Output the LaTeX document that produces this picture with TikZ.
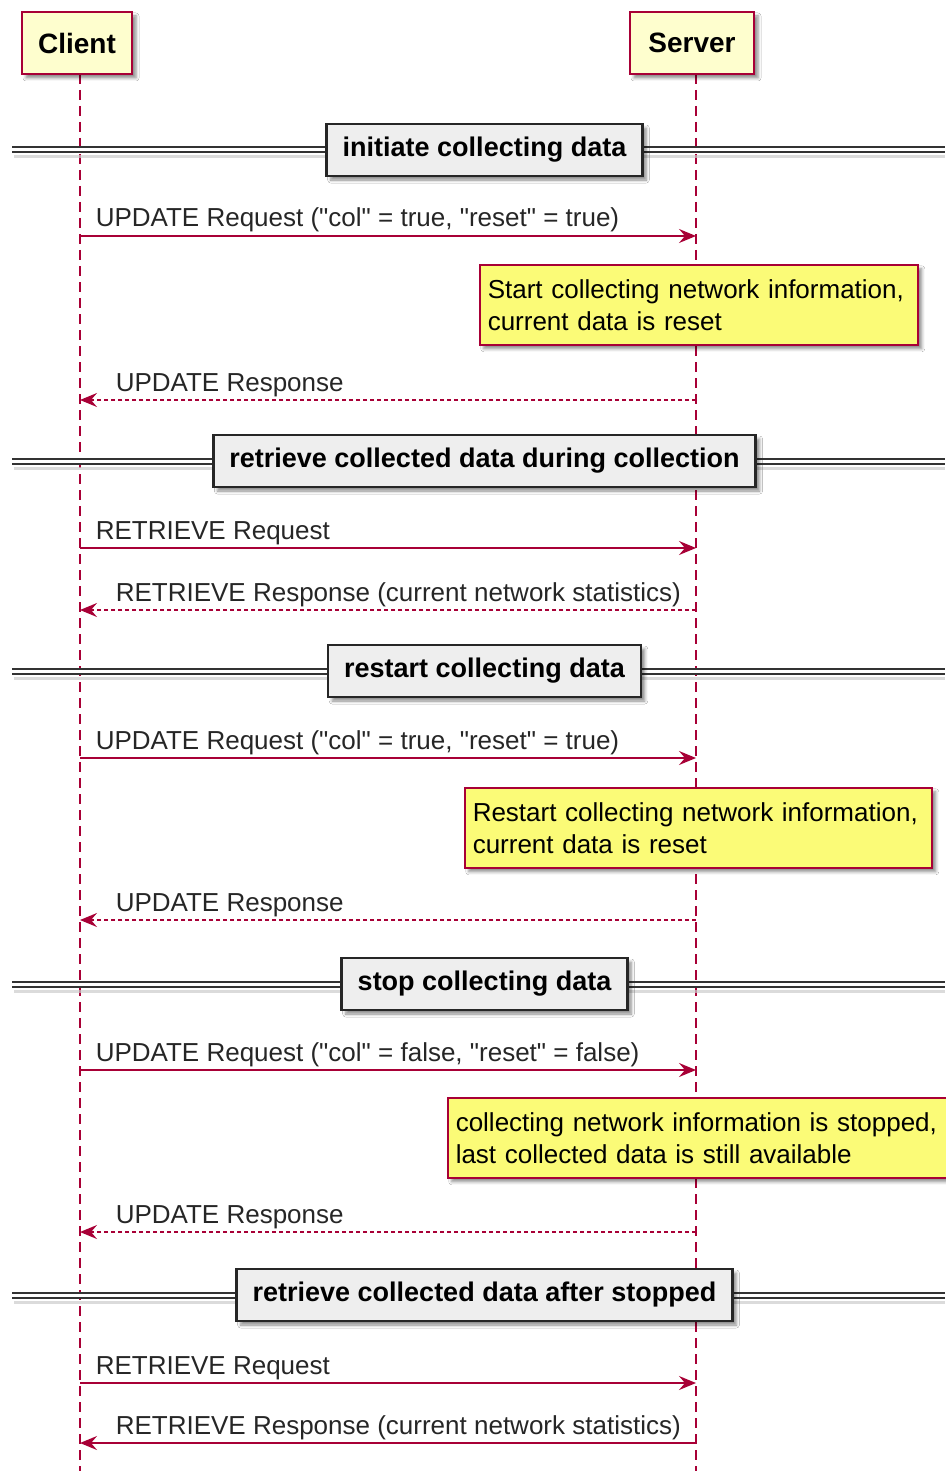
\documentclass[tikz,border=0pt]{standalone}
\usepackage{fontspec}
\setmainfont{Liberation Sans}[Ligatures=TeXOff]
\usetikzlibrary{arrows.meta,shadows.blur}
\definecolor{puborder}{HTML}{A80036}
\definecolor{pufill}{HTML}{FEFECE}
\definecolor{notefill}{HTML}{FBFB77}
\definecolor{divfill}{HTML}{EEEEEE}
\tikzset{
  pshadow/.style={blur shadow={shadow xshift=4pt,shadow yshift=-4pt,shadow blur radius=3pt,shadow opacity=45}},
  participant/.style={draw=puborder, line width=1.8pt, fill=pufill, minimum height=62pt, inner sep=0pt, font=\fontsize{28}{32}\selectfont\bfseries, pshadow},
  lifeline/.style={draw=puborder, line width=1.5pt, dash pattern=on 10pt off 6pt},
  req/.style={draw=puborder, line width=1.6pt, -{Stealth[length=17pt,width=14pt,inset=6pt]}},
  resp/.style={req, dash pattern=on 4pt off 3pt},
  msglabel/.style={font=\fontsize{26}{30}\selectfont, inner sep=0pt, text=black!85},
  notebox/.style={draw=puborder, line width=1.5pt, fill=notefill, anchor=north west, minimum height=80pt, inner xsep=8pt, inner ysep=0pt, align=left, font=\fontsize{26}{32}\selectfont, pshadow},
  divbox/.style={draw=black!85, line width=2.5pt, fill=divfill, minimum height=52pt, inner xsep=16pt, inner ysep=0pt, font=\fontsize{27}{30}\selectfont\bfseries, pshadow},
  divline/.style={draw=black!80, line width=2pt, double=white, double distance=3pt},
  divshadow/.style={draw=black!20, line width=3pt, opacity=0.7},
}
\begin{document}
\begin{tikzpicture}[x=1pt,y=-1pt]
\useasboundingbox[fill=white] (0,0) rectangle (945,1471);

% lifelines
\coordinate (ctop) at (80,74);
\coordinate (cbot) at (80,1471);
\coordinate (stop) at (696,74);
\coordinate (sbot) at (696,1471);
\draw[lifeline] (ctop) -- (cbot);
\draw[lifeline] (stop) -- (sbot);

% participants
\node[participant, minimum width=110pt] (client) at (77,43) {Client};
\node[participant, minimum width=124pt] (server) at (692,43) {Server};

% dividers
\foreach \yy/\nm/\txt in {150/d1/initiate collecting data, 461/d2/retrieve collected data during collection, 671/d3/restart collecting data, 984/d4/stop collecting data, 1295/d5/retrieve collected data after stopped}{
  \draw[divshadow] (14,\yy+7) -- (945,\yy+7);
  \draw[divline] (12,\yy) -- (945,\yy);
  \node[divbox] (\nm) at (484.5,\yy) {\txt};
}

% message coordinates
\foreach \i/\yy in {1/236,2/400,3/548,4/610,5/758,6/920,7/1070,8/1232,9/1383,10/1443}{
  \coordinate (c\i) at (80,\yy);
  \coordinate (s\i) at (696,\yy);
}

\draw[req] (c1) -- node[msglabel, pos=0, anchor=base west, xshift=15pt, yshift=9pt] {UPDATE Request ("col" = true, "reset" = true)} (s1);
\node[notebox, text width=422pt] (n1) at (479,264) {Start collecting network information,\\current data is reset};
\draw[resp] (s2) -- node[msglabel, pos=1, anchor=base west, xshift=35pt, yshift=9pt] {UPDATE Response} (c2);

\draw[req] (c3) -- node[msglabel, pos=0, anchor=base west, xshift=15pt, yshift=9pt] {RETRIEVE Request} (s3);
\draw[resp] (s4) -- node[msglabel, pos=1, anchor=base west, xshift=35pt, yshift=9pt] {RETRIEVE Response (current network statistics)} (c4);

\draw[req] (c5) -- node[msglabel, pos=0, anchor=base west, xshift=15pt, yshift=9pt] {UPDATE Request ("col" = true, "reset" = true)} (s5);
\node[notebox, text width=451pt] (n2) at (464,787) {Restart collecting network information,\\current data is reset};
\draw[resp] (s6) -- node[msglabel, pos=1, anchor=base west, xshift=35pt, yshift=9pt] {UPDATE Response} (c6);

\draw[req] (c7) -- node[msglabel, pos=0, anchor=base west, xshift=15pt, yshift=9pt] {UPDATE Request ("col" = false, "reset" = false)} (s7);
\node[notebox, text width=489pt] (n3) at (447,1097) {collecting network information is stopped,\\last collected data is still available};
\draw[resp] (s8) -- node[msglabel, pos=1, anchor=base west, xshift=35pt, yshift=9pt] {UPDATE Response} (c8);

\draw[req] (c9) -- node[msglabel, pos=0, anchor=base west, xshift=15pt, yshift=9pt] {RETRIEVE Request} (s9);
\draw[req] (s10) -- node[msglabel, pos=1, anchor=base west, xshift=35pt, yshift=9pt] {RETRIEVE Response (current network statistics)} (c10);
\end{tikzpicture}
\end{document}
